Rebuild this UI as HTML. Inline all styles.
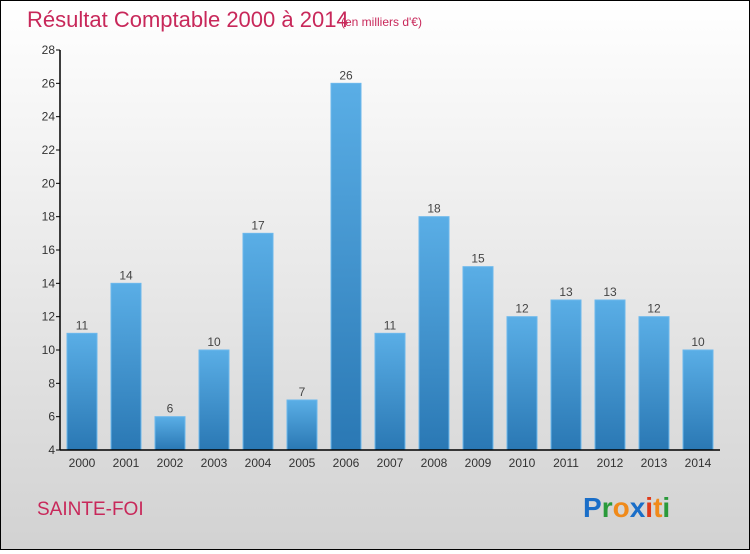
<!DOCTYPE html>
<html><head><meta charset="utf-8"><style>
html,body{margin:0;padding:0}
body{width:750px;height:550px;overflow:hidden;font-family:"Liberation Sans",sans-serif}
#wrap{position:relative;width:748px;height:548px;border:1px solid #000;background:linear-gradient(#ffffff,#d2d2d2)}
</style></head><body>
<div id="wrap">
<svg id="chart" width="748" height="548">
<defs><linearGradient id="bg" x1="0" y1="0" x2="0" y2="1"><stop offset="0" stop-color="#5aaee6"/><stop offset="1" stop-color="#2a78b4"/></linearGradient></defs>
<text x="26" y="26" font-size="22" fill="#c8285a">Résultat Comptable 2000 à 2014</text>
<text x="340" y="25" font-size="12" fill="#c8285a">(en milliers d'€)</text>
<text x="36" y="514" font-size="19" fill="#c8285a">SAINTE-FOI</text>
<g font-size="28" font-weight="bold" font-family="Liberation Sans, sans-serif">
<text x="582" y="516"><tspan fill="#1a6ec8">P</tspan><tspan fill="#2a9a3a">r</tspan><tspan fill="#f08a1a">o</tspan><tspan fill="#1a6ec8">x</tspan><tspan fill="#e03a1a">i</tspan><tspan fill="#f08a1a">t</tspan><tspan fill="#2a9a3a">i</tspan></text>
</g>
<g id="plot"></g>
</svg>
</div>
<script>
const years=["2000","2001","2002","2003","2004","2005","2006","2007","2008","2009","2010","2011","2012","2013","2014"];
const values=[11,14,6,10,17,7,26,11,18,15,12,13,13,12,10];
const yTicks=[4,6,8,10,12,14,16,18,20,22,24,26,28];
const NS="http://www.w3.org/2000/svg";
const g=document.getElementById('plot');
const x0=59,slot=44,bw=30,yMin=4,yMax=28,yBot=449,yTop=49;
function y(v){return yBot-(v-yMin)*(yBot-yTop)/(yMax-yMin);}
function mk(t,a){const e=document.createElementNS(NS,t);for(const k in a)e.setAttribute(k,a[k]);g.appendChild(e);return e;}
values.forEach((v,i)=>{
 const bx=x0+7+i*slot;
 const r=mk('rect',{x:bx,y:y(v),width:bw,height:yBot-y(v),fill:'url(#bg)',stroke:'#6cb8ec','stroke-width':1});
 
 
 const t=mk('text',{x:bx+bw/2,y:y(v)-4,'text-anchor':'middle','font-size':12,fill:'#444'});
 t.textContent=v;
 
 
 const xl=mk('text',{x:bx+bw/2,y:466,'text-anchor':'middle','font-size':12,fill:'#333'});
 xl.textContent=years[i];
 
 
});
yTicks.forEach(v=>{
 const tk=mk('line',{x1:x0-4,x2:x0,y1:y(v),y2:y(v),stroke:'#000'});
 
 
 const t=mk('text',{x:x0-5,y:y(v)+4,'text-anchor':'end','font-size':12,fill:'#333'});
 t.textContent=v;
 
 
});
const ya=mk('line',{x1:x0,x2:x0,y1:yTop,y2:yBot,stroke:'#000','stroke-width':1.5});


const xa=mk('line',{x1:x0,x2:x0+15*slot,y1:yBot,y2:yBot,stroke:'#000','stroke-width':1.5});


</script>
</body></html>
